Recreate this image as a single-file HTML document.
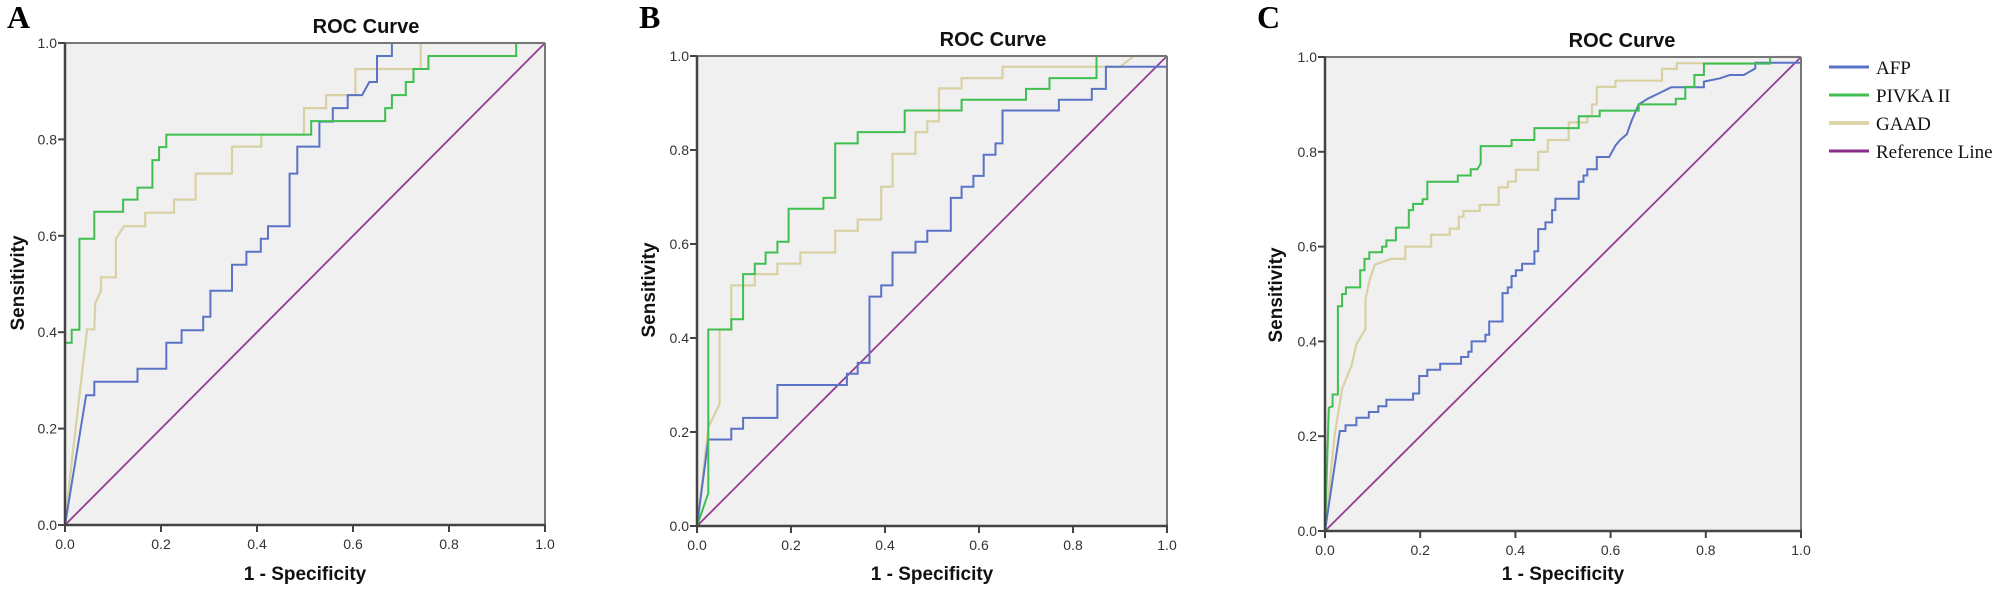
<!DOCTYPE html>
<html><head><meta charset="utf-8">
<style>
html,body{margin:0;padding:0;background:#fff;}
svg{display:block;}
.t{font-family:"Liberation Sans",Arial,sans-serif;font-size:14px;fill:#333;}
.b{font-family:"Liberation Sans",Arial,sans-serif;font-weight:bold;fill:#111;}
.s{font-family:"Liberation Serif","Times New Roman",serif;}
</style></head>
<body>
<svg id="c" width="2001" height="596" viewBox="0 0 2001 596" xmlns="http://www.w3.org/2000/svg">
<text class="s" x="7" y="28" font-size="32" font-weight="bold" fill="#000">A</text>
<text class="s" x="639" y="28" font-size="32" font-weight="bold" fill="#000">B</text>
<text class="s" x="1257" y="28" font-size="32" font-weight="bold" fill="#000">C</text>
<g id="legend">
<line x1="1829" y1="67" x2="1869" y2="67" stroke="#5a73c6" stroke-width="3"/>
<line x1="1829" y1="95" x2="1869" y2="95" stroke="#3fbf4f" stroke-width="3"/>
<line x1="1829" y1="123" x2="1869" y2="123" stroke="#dcd6aa" stroke-width="4"/>
<line x1="1829" y1="151" x2="1869" y2="151" stroke="#8a2d8a" stroke-width="3"/>
<text class="s" x="1876" y="74" font-size="19" fill="#111">AFP</text>
<text class="s" x="1876" y="102" font-size="19" fill="#111">PIVKA II</text>
<text class="s" x="1876" y="130" font-size="19" fill="#111">GAAD</text>
<text class="s" x="1876" y="158" font-size="19" fill="#111">Reference Line</text>
</g>
</svg>
<script>
var NS="http://www.w3.org/2000/svg",svg=document.getElementById('c');
function el(n,a,t){var e=document.createElementNS(NS,n);for(var k in a)e.setAttribute(k,a[k]);if(t!=null)e.textContent=t;svg.appendChild(e);return e;}
function steps(p){ // p = list of [x,y]; step points inserted where specified with 'h' flag
 return p;}
var plots=[
{x0:65,x1:545,y0:43,y1:525,title:366,ty:33,sx:17,sy:283,
 afp:[[0,0],[0.044,0.269],[0.061,0.269],[0.061,0.297],[0.151,0.297],[0.151,0.324],[0.211,0.324],[0.211,0.378],[0.243,0.378],[0.243,0.404],[0.288,0.404],[0.288,0.432],[0.303,0.432],[0.303,0.486],[0.348,0.486],[0.348,0.54],[0.378,0.54],[0.378,0.567],[0.408,0.567],[0.408,0.594],[0.423,0.594],[0.423,0.62],[0.468,0.62],[0.468,0.729],[0.484,0.729],[0.484,0.785],[0.53,0.785],[0.53,0.837],[0.558,0.837],[0.558,0.865],[0.589,0.865],[0.589,0.892],[0.619,0.892],[0.634,0.919],[0.65,0.919],[0.65,0.973],[0.681,0.973],[0.681,1],[1,1]],
 piv:[[0,0],[0,0.378],[0.014,0.378],[0.014,0.405],[0.03,0.405],[0.03,0.594],[0.061,0.594],[0.061,0.65],[0.121,0.65],[0.121,0.675],[0.151,0.675],[0.151,0.7],[0.182,0.7],[0.182,0.757],[0.196,0.757],[0.196,0.784],[0.211,0.784],[0.211,0.81],[0.513,0.81],[0.513,0.838],[0.667,0.838],[0.667,0.865],[0.681,0.865],[0.681,0.892],[0.71,0.892],[0.71,0.919],[0.726,0.919],[0.726,0.946],[0.757,0.946],[0.757,0.973],[0.94,0.973],[0.94,1],[1,1]],
 gaad:[[0,0],[0.014,0.13],[0.046,0.406],[0.061,0.406],[0.063,0.46],[0.075,0.486],[0.075,0.514],[0.106,0.514],[0.106,0.594],[0.123,0.62],[0.167,0.62],[0.167,0.648],[0.227,0.648],[0.227,0.675],[0.272,0.675],[0.272,0.729],[0.348,0.729],[0.348,0.785],[0.409,0.785],[0.409,0.81],[0.498,0.81],[0.498,0.865],[0.544,0.865],[0.544,0.892],[0.605,0.892],[0.605,0.946],[0.741,0.946],[0.741,1],[1,1]]},
{x0:697,x1:1167,y0:56,y1:526,title:993,ty:46,sx:648,sy:290,
 afp:[[0,0],[0.024,0.184],[0.073,0.184],[0.073,0.207],[0.098,0.207],[0.098,0.23],[0.171,0.23],[0.171,0.3],[0.319,0.3],[0.319,0.324],[0.342,0.324],[0.342,0.347],[0.367,0.347],[0.367,0.488],[0.392,0.488],[0.392,0.512],[0.416,0.512],[0.416,0.582],[0.465,0.582],[0.465,0.605],[0.49,0.605],[0.49,0.628],[0.54,0.628],[0.54,0.698],[0.563,0.698],[0.563,0.722],[0.588,0.722],[0.588,0.745],[0.61,0.745],[0.61,0.79],[0.635,0.79],[0.635,0.814],[0.65,0.814],[0.65,0.884],[0.77,0.884],[0.77,0.907],[0.84,0.907],[0.84,0.93],[0.87,0.93],[0.87,0.977],[1,0.977],[1,1]],
 piv:[[0,0],[0.024,0.07],[0.024,0.418],[0.073,0.418],[0.073,0.44],[0.098,0.44],[0.098,0.536],[0.123,0.536],[0.123,0.558],[0.146,0.558],[0.146,0.582],[0.171,0.582],[0.171,0.605],[0.195,0.605],[0.195,0.675],[0.269,0.675],[0.269,0.698],[0.294,0.698],[0.294,0.814],[0.342,0.814],[0.342,0.838],[0.442,0.838],[0.442,0.884],[0.563,0.884],[0.563,0.907],[0.7,0.907],[0.7,0.93],[0.75,0.93],[0.75,0.953],[0.85,0.953],[0.85,1],[1,1]],
 gaad:[[0,0],[0.024,0.21],[0.048,0.26],[0.048,0.418],[0.073,0.418],[0.073,0.512],[0.123,0.512],[0.123,0.536],[0.171,0.536],[0.171,0.558],[0.22,0.558],[0.22,0.582],[0.294,0.582],[0.294,0.628],[0.342,0.628],[0.342,0.652],[0.392,0.652],[0.392,0.722],[0.416,0.722],[0.416,0.792],[0.465,0.792],[0.465,0.838],[0.49,0.838],[0.49,0.861],[0.515,0.861],[0.515,0.931],[0.563,0.931],[0.563,0.953],[0.65,0.953],[0.65,0.977],[0.9,0.977],[0.93,1],[1,1]]},
{x0:1325,x1:1801,y0:57,y1:531,title:1622,ty:47,sx:1275,sy:295,
 afp:[[0,0],[0.031,0.211],[0.043,0.211],[0.043,0.223],[0.066,0.223],[0.066,0.239],[0.092,0.239],[0.092,0.251],[0.112,0.251],[0.112,0.263],[0.129,0.263],[0.129,0.277],[0.185,0.277],[0.185,0.29],[0.198,0.29],[0.198,0.327],[0.215,0.327],[0.215,0.34],[0.242,0.34],[0.242,0.353],[0.286,0.353],[0.286,0.367],[0.301,0.367],[0.301,0.378],[0.308,0.378],[0.308,0.4],[0.337,0.4],[0.337,0.414],[0.345,0.414],[0.345,0.442],[0.373,0.442],[0.373,0.502],[0.384,0.502],[0.384,0.514],[0.392,0.514],[0.392,0.538],[0.401,0.538],[0.401,0.55],[0.414,0.55],[0.414,0.564],[0.44,0.564],[0.44,0.59],[0.448,0.59],[0.448,0.637],[0.463,0.637],[0.463,0.651],[0.477,0.651],[0.477,0.677],[0.484,0.677],[0.484,0.701],[0.533,0.701],[0.533,0.737],[0.543,0.737],[0.543,0.75],[0.551,0.75],[0.551,0.763],[0.571,0.763],[0.571,0.789],[0.597,0.789],[0.61,0.813],[0.62,0.825],[0.634,0.837],[0.644,0.865],[0.659,0.9],[0.678,0.912],[0.703,0.924],[0.727,0.936],[0.796,0.936],[0.796,0.948],[0.83,0.955],[0.85,0.962],[0.88,0.962],[0.904,0.976],[0.904,0.988],[1,0.988],[1,1]],
 piv:[[0,0],[0.008,0.26],[0.016,0.263],[0.016,0.288],[0.027,0.288],[0.027,0.474],[0.036,0.474],[0.036,0.5],[0.044,0.5],[0.044,0.514],[0.074,0.514],[0.074,0.55],[0.083,0.55],[0.083,0.574],[0.093,0.574],[0.093,0.588],[0.12,0.588],[0.12,0.6],[0.129,0.6],[0.129,0.613],[0.149,0.613],[0.149,0.64],[0.176,0.64],[0.176,0.677],[0.185,0.677],[0.185,0.69],[0.205,0.69],[0.205,0.7],[0.215,0.7],[0.215,0.737],[0.279,0.737],[0.279,0.75],[0.306,0.75],[0.306,0.763],[0.32,0.763],[0.327,0.775],[0.327,0.812],[0.392,0.812],[0.392,0.825],[0.44,0.825],[0.44,0.85],[0.533,0.85],[0.533,0.875],[0.577,0.875],[0.577,0.887],[0.659,0.887],[0.659,0.9],[0.737,0.9],[0.737,0.912],[0.757,0.912],[0.757,0.937],[0.776,0.937],[0.776,0.962],[0.796,0.962],[0.796,0.986],[0.935,0.986],[0.935,1],[1,1]],
 gaad:[[0,0],[0.02,0.2],[0.036,0.3],[0.056,0.35],[0.066,0.394],[0.085,0.426],[0.085,0.49],[0.095,0.534],[0.105,0.562],[0.139,0.574],[0.169,0.574],[0.169,0.6],[0.223,0.6],[0.223,0.625],[0.262,0.625],[0.262,0.638],[0.281,0.638],[0.281,0.663],[0.291,0.663],[0.291,0.675],[0.325,0.675],[0.325,0.688],[0.365,0.688],[0.365,0.725],[0.384,0.725],[0.384,0.737],[0.401,0.737],[0.401,0.762],[0.448,0.762],[0.448,0.8],[0.468,0.8],[0.468,0.825],[0.512,0.825],[0.512,0.862],[0.551,0.862],[0.551,0.875],[0.561,0.875],[0.561,0.9],[0.571,0.9],[0.571,0.937],[0.61,0.937],[0.61,0.95],[0.708,0.95],[0.708,0.975],[0.739,0.975],[0.739,0.987],[0.935,0.987],[0.935,1],[1,1]]}
];
plots.forEach(function(P){
 var W=P.x1-P.x0,H=P.y1-P.y0;
 function X(v){return P.x0+v*W;} function Y(v){return P.y1-v*H;}
 el('rect',{x:P.x0,y:P.y0,width:W,height:H,fill:'#f0f0f0'});
 function pl(d,c,w){el('polyline',{points:d.map(function(p){return X(p[0]).toFixed(1)+','+Y(p[1]).toFixed(1);}).join(' '),fill:'none',stroke:c,'stroke-width':w,'stroke-linejoin':'miter'});}
 pl([[0,0],[1,1]],'#963b93',1.8);
 pl(P.gaad,'#d8d1a4',2.2);
 pl(P.afp,'#5a73c6',2);
 pl(P.piv,'#3fbf4f',2);
 el('line',{x1:P.x0,y1:P.y0,x2:P.x1,y2:P.y0,stroke:'#777','stroke-width':2});
 el('line',{x1:P.x1,y1:P.y0,x2:P.x1,y2:P.y1,stroke:'#777','stroke-width':2});
 el('line',{x1:P.x0,y1:P.y0,x2:P.x0,y2:P.y1+1,stroke:'#444','stroke-width':2.5});
 el('line',{x1:P.x0-1,y1:P.y1,x2:P.x1+1,y2:P.y1,stroke:'#444','stroke-width':2.5});
 for(var i=0;i<=5;i++){var v=i/5,l=(v).toFixed(1);
  el('line',{x1:P.x0-7,y1:Y(v),x2:P.x0,y2:Y(v),stroke:'#444','stroke-width':2});
  el('line',{x1:X(v),y1:P.y1,x2:X(v),y2:P.y1+7,stroke:'#444','stroke-width':2});
  el('text',{x:P.x0-8,y:Y(v)+5,'text-anchor':'end','class':'t'},l);
  el('text',{x:X(v),y:P.y1+24,'text-anchor':'middle','class':'t'},l);
 }
 el('text',{x:P.title,y:P.ty,'text-anchor':'middle','class':'b','font-size':20},'ROC Curve');
 el('text',{x:(P.x0+P.x1)/2,y:580,'text-anchor':'middle','class':'b','font-size':19},'1 - Specificity');
 el('text',{x:P.sx+7,y:P.sy,'text-anchor':'middle','class':'b','font-size':19,transform:'rotate(-90 '+(P.sx+7)+' '+P.sy+')'},'Sensitivity');
});
</script>
</body></html>
